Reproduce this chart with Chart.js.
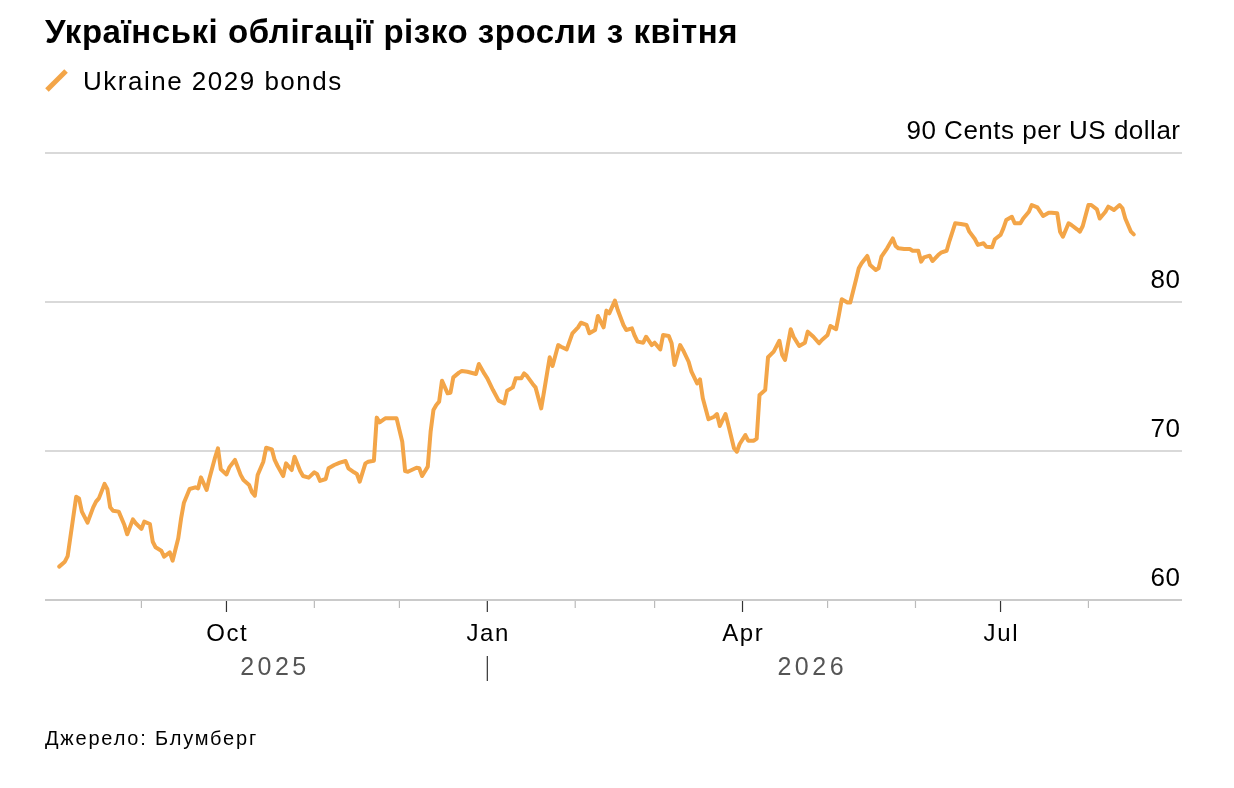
<!DOCTYPE html>
<html lang="uk">
<head>
<meta charset="utf-8">
<title>Українські облігації різко зросли з квітня</title>
<script src="https://cdn.jsdelivr.net/npm/chart.js@4.4.1/dist/chart.umd.min.js"></script>
<style>
  html, body { margin: 0; padding: 0; background: #fff; }
  body { width: 1234px; height: 788px; position: relative; overflow: hidden;
         font-family: "Liberation Sans", Arial, sans-serif; color: #000; }
  #chart { position: absolute; left: 0; top: 0; }
  .title { position: absolute; left: 45px; top: 15px; font-size: 33px; line-height: 1; font-weight: bold;
           letter-spacing: 0.55px; white-space: nowrap; }
  .legend { position: absolute; left: 45px; top: 68px; font-size: 26px; line-height: 1; white-space: nowrap;
            letter-spacing: 1.5px; }
  .swatch { position: absolute; left: -2px; top: 10px; width: 27px; height: 5px; background: #f3a548;
            transform: rotate(-45deg); }
  .legend span.txt { margin-left: 38px; }
  .source { position: absolute; left: 45px; top: 728px; font-size: 20px; line-height: 1; white-space: nowrap;
            letter-spacing: 1.8px; }
</style>
</head>
<body>
<canvas id="chart" width="1234" height="788"></canvas>
<div class="title">Українські облігації різко зросли з квітня</div>
<div class="legend"><i class="swatch"></i><span class="txt">Ukraine 2029 bonds</span></div>
<div class="source">Джерело: Блумберг</div>
<script>
// series
const dates = [
  '2025-08-03','2025-08-05','2025-08-06','2025-08-09','2025-08-10','2025-08-11','2025-08-13','2025-08-15',
  '2025-08-16','2025-08-17','2025-08-19','2025-08-20','2025-08-21','2025-08-22','2025-08-24','2025-08-26',
  '2025-08-27','2025-08-29','2025-08-30','2025-09-01','2025-09-02','2025-09-04','2025-09-05','2025-09-06',
  '2025-09-08','2025-09-09','2025-09-11','2025-09-12','2025-09-14','2025-09-15','2025-09-16','2025-09-18',
  '2025-09-20','2025-09-21','2025-09-22','2025-09-24','2025-09-25','2025-09-27','2025-09-28','2025-09-29',
  '2025-10-01','2025-10-02','2025-10-04','2025-10-06','2025-10-07','2025-10-09','2025-10-10','2025-10-11',
  '2025-10-12','2025-10-14','2025-10-15','2025-10-17','2025-10-18','2025-10-19','2025-10-21','2025-10-22',
  '2025-10-24','2025-10-25','2025-10-27','2025-10-28','2025-10-30','2025-11-01','2025-11-02','2025-11-03',
  '2025-11-05','2025-11-06','2025-11-08','2025-11-10','2025-11-12','2025-11-13','2025-11-15','2025-11-16',
  '2025-11-17','2025-11-19','2025-11-20','2025-11-22','2025-11-23','2025-11-24','2025-11-26','2025-11-28',
  '2025-11-30','2025-12-02','2025-12-03','2025-12-04','2025-12-07','2025-12-08','2025-12-09','2025-12-11',
  '2025-12-12','2025-12-13','2025-12-14','2025-12-15','2025-12-16','2025-12-18','2025-12-19','2025-12-20',
  '2025-12-22','2025-12-23','2025-12-25','2025-12-28','2025-12-29','2025-12-31','2026-01-01','2026-01-03',
  '2026-01-05','2026-01-07','2026-01-08','2026-01-10','2026-01-11','2026-01-13','2026-01-14','2026-01-15',
  '2026-01-17','2026-01-18','2026-01-20','2026-01-21','2026-01-23','2026-01-24','2026-01-26','2026-01-27',
  '2026-01-29','2026-01-31','2026-02-02','2026-02-03','2026-02-05','2026-02-06','2026-02-08','2026-02-09',
  '2026-02-11','2026-02-12','2026-02-13','2026-02-15','2026-02-16','2026-02-18','2026-02-19','2026-02-21',
  '2026-02-22','2026-02-23','2026-02-25','2026-02-26','2026-02-28','2026-03-01','2026-03-03','2026-03-04',
  '2026-03-06','2026-03-07','2026-03-08','2026-03-10','2026-03-11','2026-03-13','2026-03-14','2026-03-16',
  '2026-03-17','2026-03-18','2026-03-20','2026-03-22','2026-03-23','2026-03-24','2026-03-26','2026-03-27',
  '2026-03-29','2026-03-30','2026-03-31','2026-04-02','2026-04-03','2026-04-05','2026-04-06','2026-04-07',
  '2026-04-09','2026-04-10','2026-04-12','2026-04-14','2026-04-15','2026-04-16','2026-04-18','2026-04-19',
  '2026-04-21','2026-04-23','2026-04-24','2026-04-26','2026-04-28','2026-04-29','2026-05-01','2026-05-02',
  '2026-05-04','2026-05-05','2026-05-06','2026-05-08','2026-05-09','2026-05-11','2026-05-12','2026-05-13',
  '2026-05-15','2026-05-16','2026-05-18','2026-05-19','2026-05-20','2026-05-22','2026-05-24','2026-05-25',
  '2026-05-26','2026-05-28','2026-05-30','2026-05-31','2026-06-02','2026-06-03','2026-06-04','2026-06-06',
  '2026-06-07','2026-06-09','2026-06-10','2026-06-12','2026-06-13','2026-06-15','2026-06-17','2026-06-19',
  '2026-06-20','2026-06-22','2026-06-23','2026-06-25','2026-06-26','2026-06-28','2026-06-29','2026-07-01',
  '2026-07-02','2026-07-03','2026-07-05','2026-07-06','2026-07-08','2026-07-09','2026-07-11','2026-07-12',
  '2026-07-14','2026-07-15','2026-07-16','2026-07-18','2026-07-19','2026-07-21','2026-07-22','2026-07-23',
  '2026-07-25','2026-07-26','2026-07-28','2026-07-29','2026-07-30','2026-08-01','2026-08-02','2026-08-04',
  '2026-08-05','2026-08-07','2026-08-08','2026-08-09','2026-08-10','2026-08-12','2026-08-13','2026-08-14',
  '2026-08-16','2026-08-17'
];
const prices = [
  62.24,62.57,62.95,66.93,66.82,65.93,65.19,66.22,
  66.60,66.82,67.79,67.43,66.22,65.99,65.93,65.03,
  64.41,65.41,65.15,64.77,65.26,65.10,63.91,63.54,
  63.31,62.91,63.20,62.64,64.14,65.48,66.53,67.45,
  67.56,67.49,68.23,67.38,68.17,69.58,70.18,68.77,
  68.43,68.90,69.40,68.40,68.05,67.72,67.23,67.00,
  68.39,69.28,70.22,70.11,69.40,69.01,68.32,69.17,
  68.72,69.62,68.66,68.32,68.21,68.57,68.44,67.99,
  68.12,68.84,69.06,69.22,69.33,68.84,68.57,68.46,
  67.94,69.17,69.28,69.35,72.24,71.92,72.19,72.19,
  72.19,70.62,68.66,68.61,68.88,68.84,68.32,68.95,
  71.30,72.75,73.09,73.31,74.72,73.87,73.91,74.94,
  75.26,75.37,75.32,75.17,75.84,75.17,74.88,74.09,
  73.38,73.20,74.05,74.27,74.88,74.88,75.21,75.03,
  74.50,74.27,72.86,73.98,76.29,75.70,77.11,77.00,
  76.82,77.90,78.30,78.61,78.46,77.90,78.12,79.06,
  78.30,79.42,79.24,80.09,79.46,78.46,78.12,78.23,
  77.72,77.34,77.27,77.67,77.11,77.27,76.82,77.79,
  77.72,77.23,75.77,77.11,76.78,75.99,75.32,74.54,
  74.81,73.54,72.13,72.30,72.48,71.68,72.48,71.74,
  70.18,69.95,70.47,71.07,70.69,70.69,70.83,73.76,
  74.09,76.29,76.67,77.40,76.44,76.11,78.17,77.67,
  77.05,77.27,78.01,77.67,77.23,77.45,77.79,78.39,
  78.17,79.13,80.18,79.96,79.96,81.48,82.26,82.60,
  83.09,82.48,82.15,82.26,83.04,83.60,84.27,83.76,
  83.60,83.56,83.56,83.44,83.44,82.71,83.00,83.11,
  82.75,83.15,83.31,83.44,84.11,85.28,85.24,85.17,
  84.72,84.21,83.83,83.94,83.71,83.67,84.21,84.50,
  84.94,85.50,85.72,85.28,85.28,85.60,86.06,86.51,
  86.35,86.06,85.77,85.99,85.99,85.95,84.72,84.38,
  85.28,85.17,84.88,84.72,85.10,86.51,86.51,86.22,
  85.60,86.06,86.40,86.29,86.17,86.51,86.29,85.60,
  84.72,84.54
];

const seriesName = 'Ukraine 2029 bonds';
const yTicks = [60, 70, 80, 90];
const yUnit = 'Cents per US dollar';
const monthStarts = ['2025-09-01','2025-10-01','2025-11-01','2025-12-01','2026-01-01','2026-02-01',
                     '2026-03-01','2026-04-01','2026-05-01','2026-06-01','2026-07-01','2026-08-01'];
const monthLabels = ['', 'Oct', '', '', 'Jan', '', '', 'Apr', '', '', 'Jul', ''];
const yearLabels = ['2025', '2026'];
const yearBreak = '2026-01-01';
const xRange = ['2025-07-29', '2026-09-03'];

const DAY = 86400000;
const toDay = s => Date.parse(s + 'T00:00:00Z') / DAY;
const ORANGE = '#f3a548';
const FONT = '"Liberation Sans", Arial, sans-serif';

const axisPlugin = {
  id: 'bbgAxes',
  beforeDatasetsDraw(chart) {
    const { ctx, chartArea: a, scales: { y } } = chart;
    ctx.save();
    ctx.lineWidth = 1.5;
    yTicks.forEach((v, i) => {
      const py = y.getPixelForValue(v);
      ctx.strokeStyle = i === 0 ? '#b8b8b8' : '#cdcdcd';
      ctx.beginPath();
      ctx.moveTo(a.left, py);
      ctx.lineTo(a.right, py);
      ctx.stroke();
    });
    ctx.restore();
  },
  afterDraw(chart) {
    const { ctx, chartArea: a, scales: { x, y } } = chart;
    ctx.save();

    // y labels, right aligned above each gridline
    ctx.fillStyle = '#000';
    ctx.font = '26px ' + FONT;
    ctx.letterSpacing = '0.5px';
    ctx.textAlign = 'right';
    ctx.textBaseline = 'alphabetic';
    yTicks.forEach((v, i) => {
      const py = y.getPixelForValue(v);
      const txt = i === yTicks.length - 1 ? v + ' ' + yUnit : String(v);
      ctx.fillText(txt, a.right - 1.5, py - 14);
    });

    // month ticks
    ctx.letterSpacing = '1.6px';
    monthStarts.forEach((m, i) => {
      const px = x.getPixelForValue(toDay(m));
      const major = monthLabels[i] !== '';
      ctx.strokeStyle = major ? '#333' : '#bbb';
      ctx.lineWidth = 1.2;
      ctx.beginPath();
      ctx.moveTo(px, a.bottom + 1);
      ctx.lineTo(px, a.bottom + (major ? 12 : 8));
      ctx.stroke();
      if (major) {
        ctx.fillStyle = '#000';
        ctx.font = '24px ' + FONT;
        ctx.textAlign = 'center';
        ctx.fillText(monthLabels[i], px + 0.8, a.bottom + 41);
      }
    });

    // year row
    const first = x.getPixelForValue(toDay(dates[0]));
    const last = x.getPixelForValue(toDay(dates[dates.length - 1]));
    const brk = x.getPixelForValue(toDay(yearBreak));
    ctx.fillStyle = '#555';
    ctx.font = '25px ' + FONT;
    ctx.letterSpacing = '3.5px';
    ctx.textAlign = 'center';
    ctx.fillText(yearLabels[0], (first + brk) / 2 + 1.7, a.bottom + 75);
    ctx.fillText(yearLabels[1], (brk + last) / 2 + 1.7, a.bottom + 75);
    ctx.strokeStyle = '#333';
    ctx.lineWidth = 1.2;
    ctx.beginPath();
    ctx.moveTo(brk, a.bottom + 56);
    ctx.lineTo(brk, a.bottom + 81);
    ctx.stroke();

    ctx.restore();
  }
};

new Chart(document.getElementById('chart'), {
  type: 'line',
  data: {
    datasets: [{
      label: seriesName,
      data: dates.map((d, i) => ({ x: toDay(d), y: prices[i] })),
      borderColor: ORANGE,
      borderWidth: 4,
      pointRadius: 0,
      tension: 0,
      borderJoinStyle: 'round',
      borderCapStyle: 'round'
    }]
  },
  options: {
    responsive: false,
    animation: false,
    layout: { padding: { left: 45, right: 52, top: 153, bottom: 188 } },
    scales: {
      x: { type: 'linear', display: false, min: toDay(xRange[0]), max: toDay(xRange[1]) },
      y: { display: false, min: yTicks[0], max: yTicks[yTicks.length - 1] }
    },
    plugins: { legend: { display: false }, tooltip: { enabled: false } }
  },
  plugins: [axisPlugin]
});
</script>
</body>
</html>
